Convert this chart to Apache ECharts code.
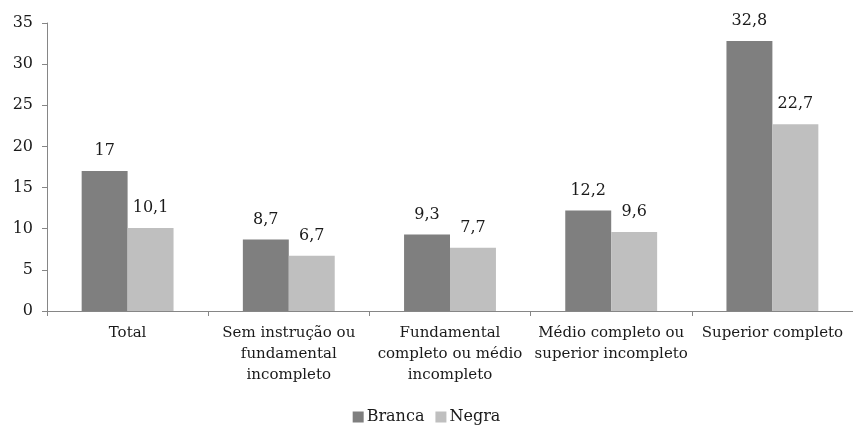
<!DOCTYPE html>
<html>
<head>
<meta charset="utf-8">
<script src="https://cdn.jsdelivr.net/npm/echarts@6/dist/echarts.min.js"></script>
<style>
  html, body { margin: 0; padding: 0; background: #fff; }
  #chart { width: 853px; height: 427px; }
</style>
</head>
<body>
<div id="chart"></div>
<script>
// categorias e valores
const categorias = [
  'Total',
  'Sem instrução ou\nfundamental\nincompleto',
  'Fundamental\ncompleto ou médio\nincompleto',
  'Médio completo ou\nsuperior incompleto',
  'Superior completo'
];
const branca = [17, 8.7, 9.3, 12.2, 32.8];
const negra = [10.1, 6.7, 7.7, 9.6, 22.7];
const yTicks = { min: 0, max: 35, interval: 5 };

const fonte = 'DejaVu Serif';
const corTexto = '#1a1a1a';
const corEixo = '#868686';

// formata com vírgula decimal
const fmt = v => String(v).replace('.', ',');

const chart = echarts.init(document.getElementById('chart'));

const rotulo = {
  show: true,
  position: 'top',
  distance: 12,
  fontFamily: fonte,
  fontSize: 16,
  color: corTexto,
  formatter: p => fmt(p.value)
};

const option = {
  animation: false,
  textStyle: { fontFamily: fonte, color: corTexto },
  grid: { left: 47, top: 23, width: 808, height: 288, containLabel: false },
  legend: {
    bottom: -3,
    left: 'center',
    itemWidth: 11,
    itemHeight: 11,
    itemGap: 11,
    icon: 'rect',
    textStyle: { fontFamily: fonte, fontSize: 16, color: corTexto, padding: [0, 0, 0, -2] },
    data: ['Branca', 'Negra']
  },
  xAxis: {
    type: 'category',
    data: categorias,
    axisLine: { lineStyle: { color: corEixo } },
    axisTick: { show: true, length: 5, lineStyle: { color: corEixo } },
    axisLabel: {
      fontFamily: fonte,
      fontSize: 15,
      lineHeight: 21,
      color: corTexto,
      margin: 12,
      interval: 0
    }
  },
  yAxis: {
    type: 'value',
    min: yTicks.min,
    max: yTicks.max,
    interval: yTicks.interval,
    splitLine: { show: false },
    axisLine: { show: true, lineStyle: { color: corEixo } },
    axisTick: { show: true, length: 5, lineStyle: { color: corEixo } },
    axisLabel: { fontFamily: fonte, fontSize: 16, color: corTexto, margin: 14 }
  },
  series: [
    {
      name: 'Branca',
      type: 'bar',
      data: branca,
      barGap: '0%',
      barCategoryGap: '43%',
      itemStyle: { color: '#7f7f7f' },
      label: rotulo
    },
    {
      name: 'Negra',
      type: 'bar',
      data: negra,
      itemStyle: { color: '#bfbfbf' },
      label: rotulo
    }
  ]
};

chart.setOption(option);
</script>
</body>
</html>
